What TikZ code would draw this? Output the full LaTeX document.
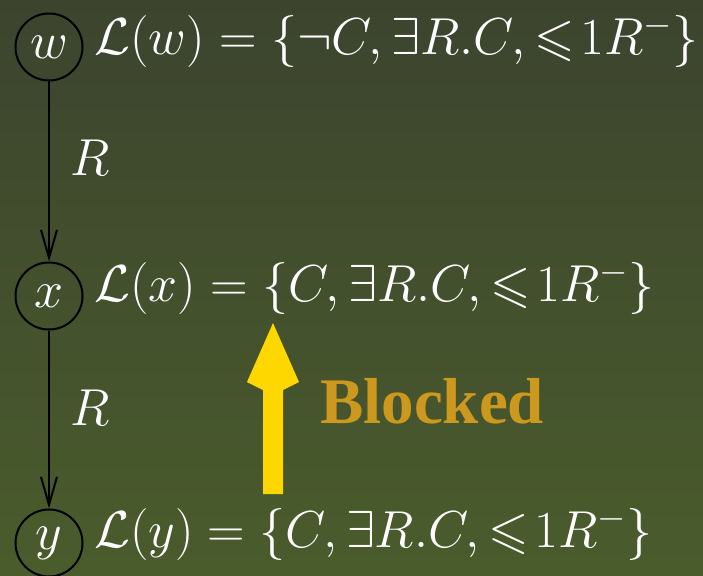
\documentclass[tikz,border=0pt]{standalone}
\usepackage{fix-cm}
\usepackage{amssymb}
\usepackage{fontspec}
\newfontfamily\blkfont{Liberation Serif}
\usetikzlibrary{arrows.meta}
\definecolor{bgtop}{RGB}{60,68,46}
\definecolor{bgbot}{RGB}{74,92,44}
\definecolor{arrowgold}{RGB}{255,215,0}
\definecolor{blockedcol}{RGB}{204,153,30}
\tikzset{
  big/.style={font=\fontsize{52}{62}\selectfont},
  vertex/.style={big, circle, draw=black, line width=2pt, minimum size=67pt, inner sep=0pt, text=white},
  labeltext/.style={big, anchor=west, text=white, inner sep=0pt},
  edgelab/.style={big, text=white, inner sep=0pt},
  rel/.style={draw=black, line width=2pt, -{Straight Barb[length=28pt,width=16pt,line width=2pt]}},
}
\begin{document}
\begin{tikzpicture}[x=1pt,y=-1pt]
\shade[top color=bgtop, bottom color=bgbot] (0,0) rectangle (703,575);
\useasboundingbox (0,0) rectangle (703,575);
\node[vertex] (w) at (49,47) {$w$};
\node[vertex] (x) at (49,296) {$x$};
\node[vertex] (y) at (49,543) {$y$};
\node[labeltext] (lw) at (94,41) {$\mathcal{L}(w)=\{\neg C,\exists R.C,\leqslant\! 1R^{-}\}$};
\node[labeltext] (lx) at (94,288) {$\mathcal{L}(x)=\{C,\exists R.C,\leqslant\! 1R^{-}\}$};
\node[labeltext] (ly) at (94,534) {$\mathcal{L}(y)=\{C,\exists R.C,\leqslant\! 1R^{-}\}$};
\draw[rel] (w) -- (x);
\draw[rel] (x) -- (y);
\node[edgelab] (r1) at (90,158) {$R$};
\node[edgelab] (r2) at (90,408) {$R$};
\fill[arrowgold] (263,494) -- (263,390) -- (247,382) -- (273,323) -- (299,382) -- (283,390) -- (283,494) -- cycle;
\node[font=\fontsize{65}{72}\blkfont\bfseries, text=blockedcol, anchor=base west, inner sep=0pt] (blk) at (320,423) {Blocked};
\end{tikzpicture}
\end{document}
